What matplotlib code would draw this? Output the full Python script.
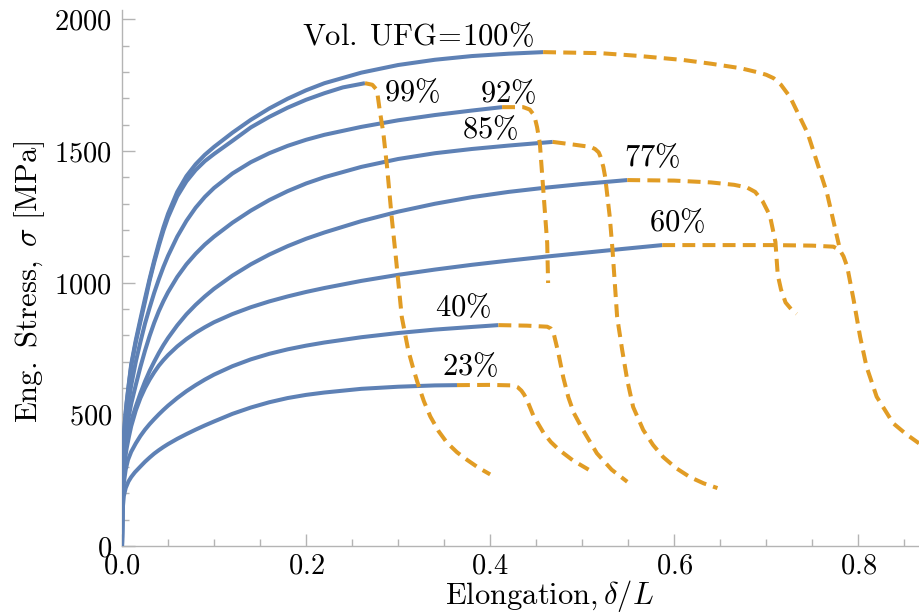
import numpy as np
import matplotlib.pyplot as plt
from matplotlib.ticker import MultipleLocator

plt.rcParams['mathtext.fontset'] = 'cm'
plt.rcParams['font.family'] = 'serif'
plt.rcParams['font.serif'] = ['DejaVu Serif']

BLUE = '#5e81b5'
ORANGE = '#e19c24'
GRAY = '#b4b4b4'

# --- hardening branch (solid blue): elongation, stress [MPa] ---
e_100 = [0, 0.0005, 0.001, 0.002, 0.0035, 0.005, 0.0075, 0.01, 0.015, 0.02, 0.025, 0.03, 0.035, 0.04, 0.045, 0.05,
         0.06, 0.07, 0.08, 0.09, 0.1, 0.12, 0.14, 0.16, 0.18, 0.2, 0.22, 0.26, 0.3, 0.34, 0.38, 0.42, 0.4576]
s_100 = [0, 250, 320, 420, 490, 545, 620, 690, 782, 862, 940, 1015, 1085, 1150, 1210, 1262,
         1345, 1405, 1450, 1486, 1516, 1570, 1619, 1662, 1699, 1731, 1758, 1798, 1827, 1847, 1861, 1870, 1876]
e_99 = [0, 0.0005, 0.001, 0.002, 0.0035, 0.005, 0.0075, 0.01, 0.015, 0.02, 0.025, 0.03, 0.035, 0.04, 0.045, 0.05,
        0.06, 0.07, 0.08, 0.09, 0.1, 0.12, 0.14, 0.16, 0.18, 0.2, 0.22, 0.24, 0.264]
s_99 = [0, 250, 320, 418, 487, 541, 615, 684, 774, 852, 928, 1008, 1077, 1140, 1198, 1248,
        1328, 1385, 1428, 1462, 1489, 1539, 1590, 1630, 1665, 1695, 1720, 1742, 1758]
e_92 = [0, 0.0005, 0.001, 0.002, 0.0035, 0.005, 0.0075, 0.01, 0.015, 0.02, 0.025, 0.03, 0.035, 0.04, 0.045, 0.05,
        0.06, 0.07, 0.08, 0.09, 0.1, 0.12, 0.14, 0.16, 0.18, 0.2, 0.22, 0.26, 0.3, 0.34, 0.38, 0.413]
s_92 = [0, 230, 295, 380, 440, 490, 555, 610, 700, 775, 845, 905, 962, 1013, 1060, 1102,
        1175, 1235, 1285, 1326, 1360, 1415, 1458, 1492, 1520, 1543, 1562, 1592, 1617, 1637, 1654, 1667]
e_85 = [0, 0.0005, 0.001, 0.002, 0.0035, 0.005, 0.0075, 0.01, 0.015, 0.02, 0.025, 0.03, 0.035, 0.04, 0.045, 0.05,
        0.06, 0.07, 0.08, 0.09, 0.1, 0.12, 0.14, 0.16, 0.18, 0.2, 0.22, 0.26, 0.3, 0.34, 0.38, 0.42, 0.468]
s_85 = [0, 210, 270, 350, 400, 440, 495, 540, 612, 680, 742, 798, 848, 892, 930, 964,
        1022, 1070, 1110, 1145, 1175, 1228, 1274, 1314, 1348, 1377, 1401, 1440, 1470, 1492, 1508, 1521, 1535]
e_77 = [0, 0.0005, 0.001, 0.002, 0.0035, 0.005, 0.0075, 0.01, 0.015, 0.02, 0.025, 0.03, 0.035, 0.04, 0.045, 0.05,
        0.06, 0.07, 0.08, 0.09, 0.1, 0.12, 0.14, 0.16, 0.18, 0.2, 0.22, 0.26, 0.3, 0.34, 0.38, 0.42, 0.46, 0.5, 0.549]
s_77 = [0, 190, 250, 320, 365, 400, 440, 475, 530, 580, 625, 665, 700, 733, 763, 790,
        838, 880, 916, 948, 977, 1027, 1070, 1107, 1139, 1167, 1191, 1234, 1270, 1300, 1325, 1345, 1361, 1375, 1390]
e_60 = [0, 0.0005, 0.001, 0.002, 0.0035, 0.005, 0.0075, 0.01, 0.015, 0.02, 0.025, 0.03, 0.035, 0.04, 0.045, 0.05,
        0.06, 0.07, 0.08, 0.09, 0.1, 0.12, 0.14, 0.16, 0.18, 0.2, 0.22, 0.26, 0.3, 0.34, 0.38, 0.42, 0.46, 0.5, 0.54, 0.587]
s_60 = [0, 170, 225, 290, 335, 370, 415, 455, 515, 562, 600, 632, 660, 685, 706, 725,
        758, 786, 810, 831, 850, 881, 907, 929, 948, 965, 980, 1007, 1030, 1050, 1068, 1084, 1099, 1113, 1127, 1143]
e_40 = [0, 0.0005, 0.001, 0.002, 0.004, 0.0065, 0.01, 0.015, 0.02, 0.025, 0.03, 0.035, 0.04, 0.045, 0.05,
        0.06, 0.07, 0.08, 0.09, 0.1, 0.12, 0.14, 0.16, 0.18, 0.2, 0.22, 0.26, 0.3, 0.34, 0.38, 0.409]
s_40 = [0, 150, 195, 240, 290, 327, 358, 390, 418, 442, 463, 482, 500, 517, 533,
        562, 588, 611, 632, 651, 683, 709, 730, 747, 761, 773, 793, 809, 822, 832, 839]
e_23 = [0, 0.0005, 0.001, 0.002, 0.004, 0.007, 0.01, 0.014, 0.02, 0.025, 0.03, 0.035, 0.04, 0.045, 0.05,
        0.06, 0.07, 0.08, 0.09, 0.1, 0.12, 0.14, 0.16, 0.18, 0.2, 0.22, 0.26, 0.3, 0.34, 0.364]
s_23 = [0, 120, 150, 190, 220, 245, 262, 280, 302, 320, 336, 351, 364, 376, 387,
        407, 425, 442, 458, 473, 502, 526, 546, 562, 574, 583, 597, 605, 610, 611]

# --- softening branch (dashed orange) ---
de_100 = [0.4576, 0.52, 0.56, 0.61, 0.64, 0.672, 0.69, 0.70, 0.708, 0.716, 0.726, 0.735, 0.745, 0.755, 0.766, 0.779]
ds_100 = [1876, 1872, 1862, 1846, 1832, 1815, 1800, 1790, 1777, 1752, 1705, 1640, 1568, 1460, 1341, 1143]
de_99 = [0.264, 0.272, 0.277, 0.280, 0.284, 0.288, 0.293, 0.2975, 0.304, 0.311, 0.316, 0.321, 0.328, 0.335,
         0.344, 0.353, 0.364, 0.375, 0.387, 0.400]
ds_99 = [1758, 1752, 1732, 1656, 1568, 1440, 1250, 1099, 870, 744, 680, 622, 550, 492,
         436, 393, 356, 327, 298, 272]
de_92 = [0.413, 0.436, 0.443, 0.448, 0.451, 0.454, 0.458, 0.462, 0.463]
ds_92 = [1667, 1667, 1658, 1635, 1591, 1530, 1341, 1151, 999]
de_85 = [0.468, 0.49, 0.509, 0.514, 0.518, 0.520, 0.523, 0.525, 0.530, 0.533, 0.538, 0.5435, 0.549, 0.5554,
         0.5663, 0.577, 0.588, 0.602, 0.617, 0.632, 0.647]
ds_85 = [1535, 1525, 1516, 1508, 1495, 1478, 1440, 1402, 1250, 1124, 870, 744, 630, 528,
         441, 384, 338, 296, 262, 238, 220]
de_77 = [0.549, 0.60, 0.64, 0.665, 0.679, 0.688, 0.696, 0.704, 0.710, 0.7125, 0.716, 0.721, 0.727, 0.733]
ds_77 = [1390, 1388, 1381, 1372, 1362, 1345, 1310, 1255, 1155, 1030, 975, 925, 900, 882]
de_60 = [0.587, 0.65, 0.708, 0.75, 0.773, 0.780, 0.784, 0.788, 0.795, 0.802, 0.809, 0.820, 0.838, 0.852, 0.866]
ds_60 = [1143, 1143, 1143, 1141, 1137, 1124, 1100, 1061, 934, 795, 681, 567, 466, 425, 390]
de_40 = [0.409, 0.44, 0.462, 0.466, 0.469, 0.474, 0.4795, 0.485, 0.491, 0.501, 0.516, 0.532, 0.549]
ds_40 = [839, 837, 833, 826, 808, 735, 640, 565, 505, 440, 352, 290, 244]
de_23 = [0.364, 0.40, 0.425, 0.430, 0.434, 0.437, 0.440, 0.447, 0.458, 0.466, 0.475, 0.490, 0.507]
ds_23 = [611, 612, 610, 603, 590, 575, 555, 495, 430, 395, 365, 325, 290]

# --- curve labels ---
vol_labels = [r'$\mathrm{Vol.}\;\mathrm{UFG}\!=\!\mathrm{100\%}$', r'$99\%$', r'$92\%$', r'$85\%$',
              r'$77\%$', r'$60\%$', r'$40\%$', r'$23\%$']
label_e = [0.321, 0.315, 0.420, 0.400, 0.576, 0.603, 0.371, 0.378]
label_s = [1937, 1724, 1720, 1580, 1477, 1227, 904, 680]

xticks = [0.0, 0.2, 0.4, 0.6, 0.8]
yticks = [0, 500, 1000, 1500, 2000]

hard = [(e_100, s_100), (e_99, s_99), (e_92, s_92), (e_85, s_85),
        (e_77, s_77), (e_60, s_60), (e_40, s_40), (e_23, s_23)]
soft = [(de_100, ds_100), (de_99, ds_99), (de_92, ds_92), (de_85, ds_85),
        (de_77, ds_77), (de_60, ds_60), (de_40, ds_40), (de_23, ds_23)]

fig = plt.figure(figsize=(9.19, 6.15), dpi=100)
ax = fig.add_axes([122 / 919, 69 / 615, 797 / 919, 536 / 615])

for e, s in hard:
    ax.plot(e, s, color=BLUE, lw=2.9, solid_capstyle='butt', solid_joinstyle='round', zorder=3)
for e, s in soft:
    ax.plot(e, s, color=ORANGE, lw=2.9, dashes=(3.2, 1.8), dash_capstyle='butt',
            dash_joinstyle='round', zorder=4)

for txt, x, y in zip(vol_labels, label_e, label_s):
    ax.text(x, y, txt, fontsize=22, ha='center', va='center', zorder=5)

ax.set_xlim(0, 0.866)
ax.set_ylim(0, 2036)

for side in ['top', 'right']:
    ax.spines[side].set_visible(False)
for side in ['left', 'bottom']:
    ax.spines[side].set_color(GRAY)
    ax.spines[side].set_linewidth(1.0)

ax.set_xticks(xticks, labels=[f'${t:.1f}$' for t in xticks])
ax.set_yticks(yticks, labels=[f'${t}$' for t in yticks])
ax.xaxis.set_minor_locator(MultipleLocator(0.05))
ax.yaxis.set_minor_locator(MultipleLocator(100))
ax.tick_params(which='major', direction='in', length=9, width=1, color=GRAY, labelsize=20.5)
ax.tick_params(which='minor', direction='in', length=5, width=1, color=GRAY)
ax.tick_params(axis='x', pad=5)
ax.tick_params(axis='y', pad=7)

fig.text(30 / 919, 1 - 282 / 615, r'$\mathrm{Eng.\ Stress,}\ \sigma\ \mathrm{[MPa]}$',
         rotation=90, fontsize=22, ha='center', va='center')
fig.text(550 / 919, 1 - 596 / 615, r'$\mathrm{Elongation,}\delta/L$',
         fontsize=22, ha='center', va='center')

fig.savefig('out.png', dpi=100)
